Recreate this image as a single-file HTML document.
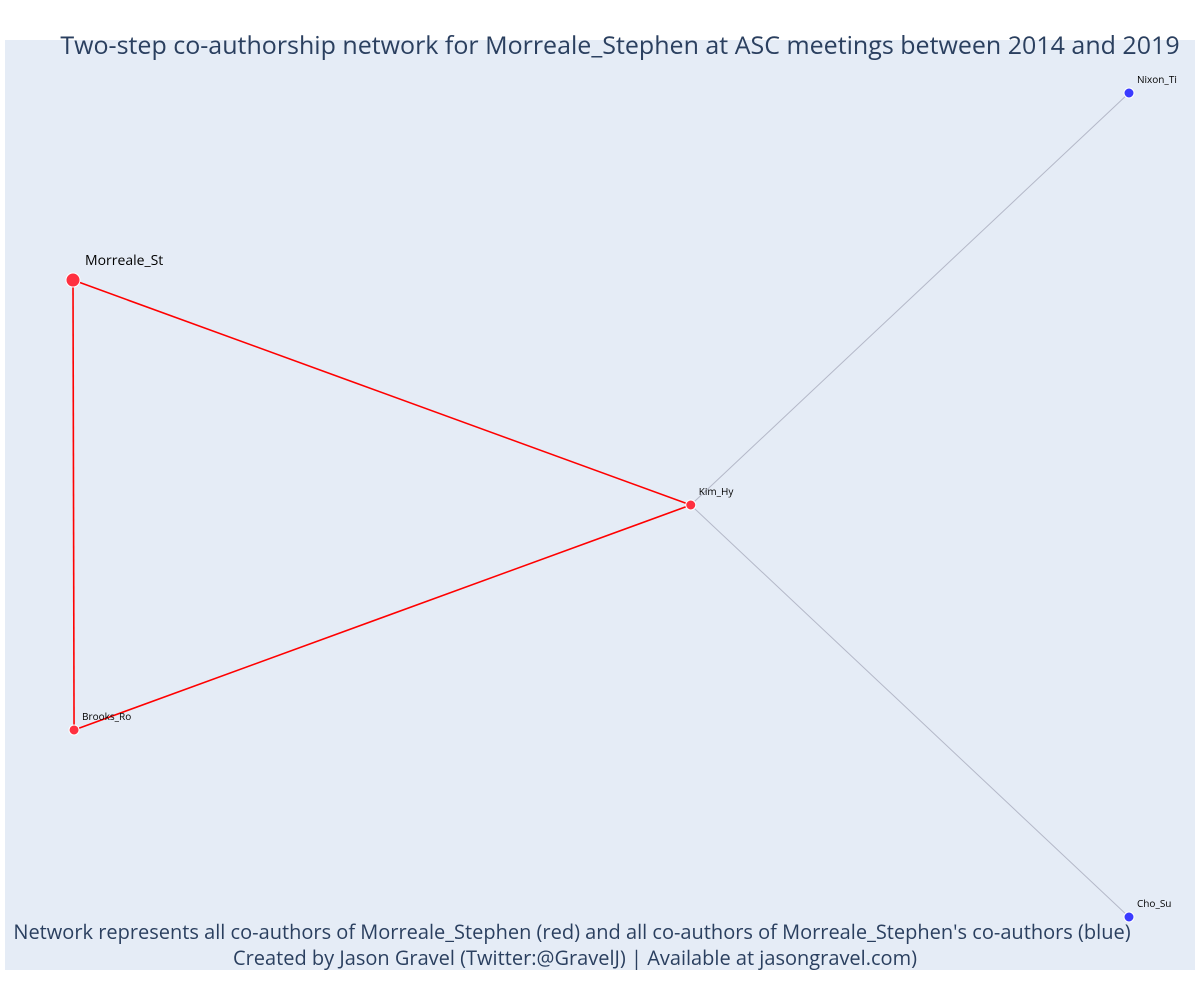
<!DOCTYPE html>
<html><head><meta charset="utf-8">
<style>
html,body{margin:0;padding:0;background:#fff;}
svg{display:block;font-family:"Open Sans","Liberation Sans",sans-serif;}
</style></head>
<body>
<svg id="chart" width="1200" height="1000">
<rect x="5" y="40" width="1190" height="930" fill="#E5ECF6"/>
<text x="620" y="54" text-anchor="middle" font-size="25" fill="#2a3f5f">Two-step co-authorship network for Morreale_Stephen at ASC meetings between 2014 and 2019</text>
<g id="edges"></g>
<g id="nodes"></g>
<text x="572" y="939" text-anchor="middle" font-size="20" fill="#2a3f5f">Network represents all co-authors of Morreale_Stephen (red) and all co-authors of Morreale_Stephen's co-authors (blue)</text>
<text x="575" y="965" text-anchor="middle" font-size="20" fill="#2a3f5f">Created by Jason Gravel (Twitter:@GravelJ) | Available at jasongravel.com)</text>
</svg>
<script>
const nodeNames = ["Morreale_St","Brooks_Ro","Kim_Hy","Nixon_Ti","Cho_Su"];
const nodeX = [0.0, 0.001, 0.585, 1.0, 1.0];
const nodeY = [0.773, 0.227, 0.5, 1.0, 0.0];
const nodeGroup = ["ego","red","red","blue","blue"];
const edgeFrom = [0,0,1,2,2];
const edgeTo = [1,2,2,3,4];
const edgeGroup = ["red","red","red","grey","grey"];

const xs = v => 73 + v*(1129-73);
const ys = v => 917 - v*(917-93);
const NS = "http://www.w3.org/2000/svg";
const eg = document.getElementById('edges'), ng = document.getElementById('nodes');
for (let i=0;i<edgeFrom.length;i++){
  const a=edgeFrom[i], b=edgeTo[i];
  const l=document.createElementNS(NS,'line');
  l.setAttribute('x1',xs(nodeX[a]));l.setAttribute('y1',ys(nodeY[a]));
  l.setAttribute('x2',xs(nodeX[b]));l.setAttribute('y2',ys(nodeY[b]));
  l.setAttribute('stroke',edgeGroup[i]==='red'?'#ff0000':'#b4b8c8');
  l.setAttribute('stroke-width',edgeGroup[i]==='red'?1.6:1);
  
  
  eg.appendChild(l);
}
for (let i=0;i<nodeNames.length;i++){
  const g=nodeGroup[i];
  const c=document.createElementNS(NS,'circle');
  c.setAttribute('cx',xs(nodeX[i]));c.setAttribute('cy',ys(nodeY[i]));
  c.setAttribute('r',g==='ego'?7:5);
  c.setAttribute('fill',g==='blue'?'#3b3bff':'#ff3040');
  c.setAttribute('stroke','#ffffff');c.setAttribute('stroke-width',1);
  
  
  ng.appendChild(c);
  const t=document.createElementNS(NS,'text');
  t.setAttribute('x',xs(nodeX[i])+(g==='ego'?12:8));
  t.setAttribute('y',ys(nodeY[i])-(g==='ego'?15:10));
  t.setAttribute('font-size',g==='ego'?14:10);
  t.setAttribute('fill','#000');
  t.textContent=nodeNames[i];
  
  
  ng.appendChild(t);
}
</script>
</body></html>
